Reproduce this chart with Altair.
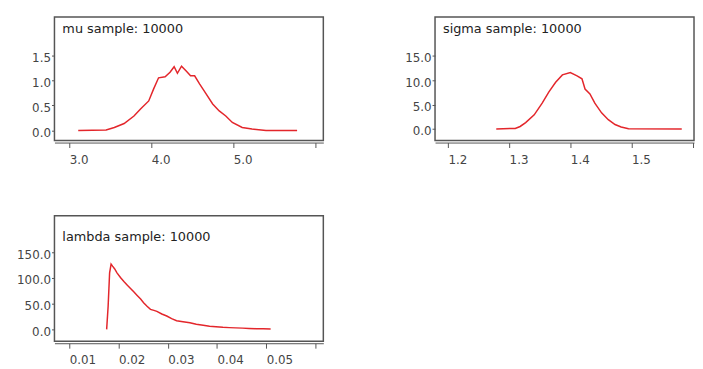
import altair as alt
import pandas as pd

# ---- data ----
mu_x = [3.11, 3.45, 3.55, 3.67, 3.79, 3.87, 3.97, 4.03, 4.09, 4.17, 4.23, 4.28, 4.32,
        4.37, 4.43, 4.48, 4.53, 4.59, 4.67, 4.75, 4.83, 4.91, 4.99, 5.11, 5.23, 5.40, 5.78]
mu_y = [0.0, 0.01, 0.06, 0.14, 0.29, 0.43, 0.59, 0.83, 1.05, 1.07, 1.16, 1.27, 1.14,
        1.28, 1.18, 1.09, 1.09, 0.93, 0.73, 0.53, 0.39, 0.29, 0.16, 0.06, 0.03, 0.0, 0.0]

sigma_x = [1.279, 1.31, 1.318, 1.327, 1.341, 1.354, 1.365, 1.376, 1.387, 1.400, 1.411,
           1.419, 1.424, 1.432, 1.440, 1.451, 1.462, 1.473, 1.483, 1.495, 1.582]
sigma_y = [0.0, 0.1, 0.5, 1.3, 2.9, 5.3, 7.6, 9.6, 11.1, 11.6, 10.9,
           10.3, 8.2, 7.2, 5.3, 3.3, 1.9, 0.9, 0.4, 0.05, 0.0]

lambda_x = [0.0176, 0.0179, 0.0182, 0.0185, 0.0188, 0.0192, 0.0197, 0.0204, 0.0211,
            0.0218, 0.0224, 0.0231, 0.0238, 0.0245, 0.0251, 0.0258, 0.0265, 0.0272,
            0.0278, 0.0288, 0.0298, 0.0308, 0.0318, 0.0331, 0.0345, 0.0358, 0.0372,
            0.0385, 0.0398, 0.0412, 0.0425, 0.0438, 0.0452, 0.0465, 0.0479, 0.0494,
            0.0509]
lambda_y = [0.0, 45.0, 110.0, 127.0, 123.0, 118.0, 110.0, 101.0, 93.0,
            86.0, 80.0, 73.0, 66.0, 59.0, 52.0, 45.0, 39.0, 37.0,
            35.0, 30.0, 26.0, 21.0, 17.0, 15.0, 13.0, 10.0, 8.0,
            6.0, 5.0, 4.0, 3.5, 3.0, 2.5, 2.0, 1.5, 1.2,
            1.0]

titles = ["mu sample: 10000", "sigma sample: 10000", "lambda sample: 10000"]

mu_xticks = [3.0, 4.0, 5.0, 6.0]
mu_yticks = [0.0, 0.5, 1.0, 1.5]
sigma_xticks = [1.2, 1.3, 1.4, 1.5, 1.6]
sigma_yticks = [0.0, 5.0, 10.0, 15.0]
lambda_xticks = [0.01, 0.02, 0.03, 0.04, 0.05, 0.06]
lambda_yticks = [0.0, 50.0, 100.0, 150.0]

RED = "#e3262b"
FONT = "DejaVu Sans"
GREY = "#555555"


def panel(xs, ys, title, xdom, ydom, xticks, yticks, xfmt, w, h, ty):
    df = pd.DataFrame({"x": xs, "y": ys})
    hide = (xticks[-2] + xticks[-1]) / 2
    line = alt.Chart(df).mark_line(color=RED, strokeWidth=1.5).encode(
        x=alt.X("x:Q",
                scale=alt.Scale(domain=xdom, nice=False, zero=False),
                axis=alt.Axis(values=xticks, format=xfmt, title=None, grid=False,
                              labelExpr=f"datum.value > {hide} ? '' : datum.label",
                              offset=2, domainColor=GREY, tickColor=GREY, tickSize=5,
                              labelAlign="left", labelPadding=7, labelColor="#444",
                              labelFont=FONT, labelFontSize=12, labelFlush=False,
                              labelOverlap=False)),
        y=alt.Y("y:Q",
                scale=alt.Scale(domain=ydom, nice=False, zero=False),
                axis=alt.Axis(values=yticks, format=".1f", title=None, grid=False,
                              domain=False, tickColor=GREY, tickSize=3, labelPadding=1,
                              labelOffset=2, labelColor="#444", labelFont=FONT,
                              labelFontSize=12, labelFlush=False, labelOverlap=False)),
    )
    txt = alt.Chart(pd.DataFrame({"t": [title]})).mark_text(
        align="left", baseline="middle", font=FONT, fontSize=13, color="#222"
    ).encode(x=alt.value(8), y=alt.value(ty), text="t:N")
    return alt.layer(line, txt).properties(width=w, height=h)


p1 = panel(mu_x, mu_y, titles[0], [2.82, 6.1], [-0.2, 2.26],
           mu_xticks, mu_yticks, ".1f", 272, 125, 12)
p2 = panel(sigma_x, sigma_y, titles[1], [1.179, 1.602], [-2.4, 23.0],
           sigma_xticks, sigma_yticks, ".1f", 262, 125, 12)
p3 = panel(lambda_x, lambda_y, titles[2], [0.007, 0.0616], [-23.0, 221.0],
           lambda_xticks, lambda_yticks, ".2f", 272, 127, 22)

chart = alt.concat(p1, p2, p3, columns=2, spacing={"row": 76, "column": 113},
                   bounds="flush").properties(
    padding={"left": 7, "top": 6, "right": 0, "bottom": 5},
).configure(background="white").configure_view(stroke=GREY, strokeWidth=1.5)

chart.save("out.html", embed_options={"renderer": "svg", "actions": False})
